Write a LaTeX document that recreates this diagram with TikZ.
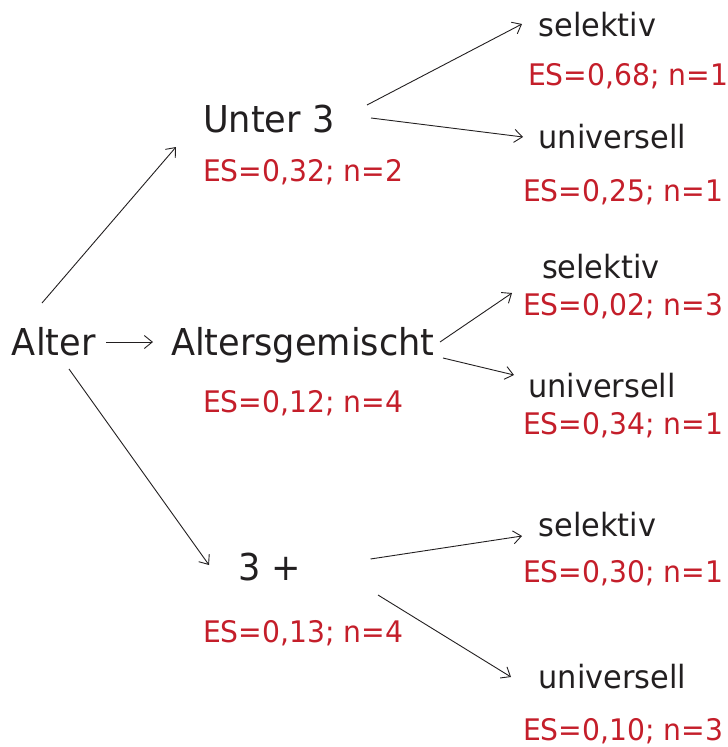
\documentclass[tikz,border=0pt]{standalone}
\usepackage{fontspec}
\setmainfont[FakeStretch=0.95]{DejaVu Sans}
\usetikzlibrary{arrows.meta}
\definecolor{inkdark}{RGB}{34,31,32}
\definecolor{esred}{RGB}{196,30,42}
\begin{document}
\begin{tikzpicture}[x=1pt,y=-1pt,
  every node/.style={inner sep=0pt,outer sep=0pt,anchor=base west},
  level/.style={text=inkdark,font=\fontsize{37}{42}\selectfont},
  leaf/.style={text=inkdark,font=\fontsize{32}{36}\selectfont},
  stat/.style={text=esred,font=\fontsize{29.7}{34}\selectfont},
  arr/.style={draw=inkdark,line width=0.9pt,-{Straight Barb[length=8pt,width=13pt]}}]
\useasboundingbox (0,0) rectangle (728,747);

% root and first level
\node[level] (alter) at (12,355) {Alter};
\node[level] (unter) at (203,132) {Unter 3};
\node[level] (mixed) at (171,355) {Altersgemischt};
\node[level] (three) at (238,580) {3 +};
\node[stat] (esU) at (203,181) {ES=0,32; n=2};
\node[stat] (esM) at (203,412) {ES=0,12; n=4};
\node[stat] (esT) at (203,642) {ES=0,13; n=4};

% leaves below "Unter 3"
\node[leaf] (selU) at (538.5,36) {selektiv};
\node[stat] (esSU) at (528,85) {ES=0,68; n=1};
\node[leaf] (uniU) at (538.5,148) {universell};
\node[stat] (esUU) at (523,201) {ES=0,25; n=1};

% leaves below "Altersgemischt"
\node[leaf] (selM) at (542,278) {selektiv};
\node[stat] (esSM) at (523,315) {ES=0,02; n=3};
\node[leaf] (uniM) at (528,397) {universell};
\node[stat] (esUM) at (523,434) {ES=0,34; n=1};

% leaves below "3 +"
\node[leaf] (selT) at (538.5,536) {selektiv};
\node[stat] (esST) at (523,582) {ES=0,30; n=1};
\node[leaf] (uniT) at (538.5,688) {universell};
\node[stat] (esUT) at (523,740) {ES=0,10; n=3};

% connectors
\draw[arr] ([shift={(30,-52)}]alter.base west) -- ([shift={(-27,15)}]unter.base west);
\draw[arr] ([shift={(94,-13)}]alter.base west) -- ([shift={(-18,-13)}]mixed.base west);
\draw[arr] ([shift={(57,14)}]alter.base west) -- ([shift={(-29,-15)}]three.base west);

\draw[arr] ([shift={(164,-27)}]unter.base west) -- ([shift={(-16.5,-12)}]selU.base west);
\draw[arr] ([shift={(168,-14)}]unter.base west) -- ([shift={(-15.5,-11)}]uniU.base west);

\draw[arr] ([shift={(269,-13)}]mixed.base west) -- ([shift={(-30,15)}]selM.base west);
\draw[arr] ([shift={(272,3)}]mixed.base west) -- ([shift={(-14,-22)}]uniM.base west);

\draw[arr] ([shift={(132.5,-21)}]three.base west) -- ([shift={(-16.5,0)}]selT.base west);
\draw[arr] ([shift={(140,15)}]three.base west) -- ([shift={(-27.5,-11)}]uniT.base west);
\end{tikzpicture}
\end{document}
